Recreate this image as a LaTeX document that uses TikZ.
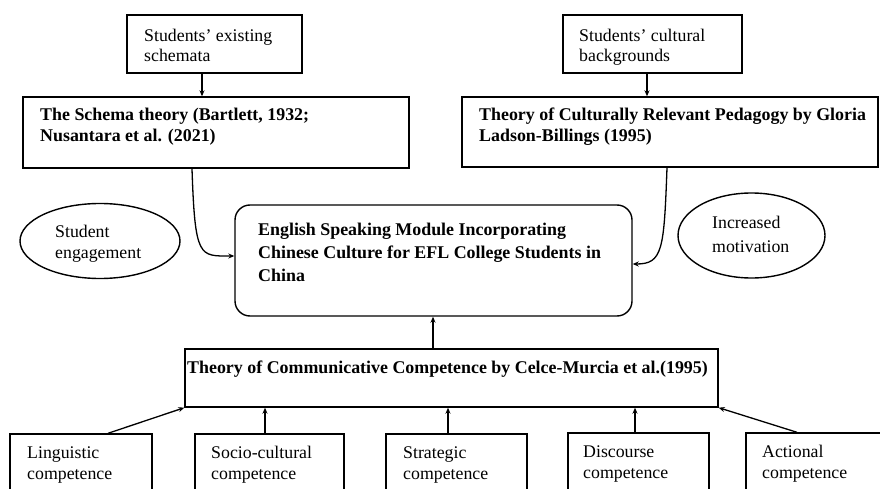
\documentclass[tikz,border=0pt]{standalone}
\usepackage{fontspec}
\setmainfont{Liberation Serif}
\usetikzlibrary{arrows.meta,shapes.geometric,calc}
\newcommand{\blines}[1]{\begin{tabular}[t]{@{}l@{}}#1\end{tabular}}
\begin{document}
\begin{tikzpicture}[x=1pt,y=-1pt,
  box/.style={draw,line width=1.4pt,rectangle,inner sep=0pt},
  ebox/.style={draw,line width=1.4pt,ellipse,inner sep=0pt},
  txt/.style={anchor=base west,inner sep=0pt,font=\fontsize{17.8}{20.5}\selectfont},
  btxt/.style={anchor=base west,inner sep=0pt,font=\fontsize{17.9}{20.7}\selectfont\bfseries},
  arr/.style={-{Stealth[length=6pt,width=5pt]},line width=1.3pt}]
\useasboundingbox (0,0) rectangle (880,489);
\clip (0,0) rectangle (880,489);

% boxes
\node[box,minimum width=175pt,minimum height=58pt] (tl) at (214.5,44) {};
\node[box,minimum width=179pt,minimum height=58pt] (tr) at (652.5,44) {};
\node[box,minimum width=386pt,minimum height=71pt] (schema) at (216,132.5) {};
\node[box,minimum width=416pt,minimum height=70pt] (crp) at (670,132) {};
\node[box,rounded corners=15pt,minimum width=397pt,minimum height=111pt] (central) at (433.5,260.5) {};
\node[ebox,minimum width=160pt,minimum height=75pt] (ell) at (100,241) {};
\node[ebox,minimum width=147pt,minimum height=85pt] (elr) at (751.5,235.5) {};
\node[box,minimum width=533pt,minimum height=58pt] (comm) at (451.5,378) {};
\node[box,minimum width=142pt,minimum height=86pt] (b1) at (81,477) {};
\node[box,minimum width=149pt,minimum height=86pt] (b2) at (269.5,477) {};
\node[box,minimum width=141pt,minimum height=86pt] (b3) at (456.5,477) {};
\node[box,minimum width=141pt,minimum height=86pt] (b4) at (638.5,476) {};
\node[box,minimum width=154pt,minimum height=86pt] (b5) at (823,476) {};

% texts
\node[txt] (tlt) at (144,41.5) {\blines{Students’ existing\\schemata}};
\node[txt] (trt) at (579,41.5) {\blines{Students’ cultural\\backgrounds}};
\node[btxt] (schemat) at (40,121) {\blines{The Schema theory (Bartlett, 1932;\\Nusantara et al. (2021)}};
\node[btxt] (crpt) at (479,121) {\blines{Theory of Culturally Relevant Pedagogy by Gloria\\Ladson-Billings (1995)}};
\node[btxt,font=\fontsize{17.9}{23.3}\selectfont\bfseries] (centralt) at (258,235) {\blines{English Speaking Module Incorporating\\Chinese Culture for EFL College Students in\\China}};
\node[txt,font=\fontsize{17.8}{21}\selectfont] (ellt) at (55,237) {\blines{Student\\engagement}};
\node[txt,font=\fontsize{17.8}{24}\selectfont] (elrt) at (712,228.5) {\blines{Increased\\motivation}};
\node[btxt] (commt) at (187,373.3) {Theory of Communicative Competence by Celce-Murcia et al.(1995)};
\node[txt,font=\fontsize{17.8}{20.7}\selectfont] (b1t) at (27,458.3) {\blines{Linguistic\\competence}};
\node[txt,font=\fontsize{17.8}{20.7}\selectfont] (b2t) at (211,458.3) {\blines{Socio-cultural\\competence}};
\node[txt,font=\fontsize{17.8}{20.7}\selectfont] (b3t) at (403,458.3) {\blines{Strategic\\competence}};
\node[txt,font=\fontsize{17.8}{20.7}\selectfont] (b4t) at (583,457.5) {\blines{Discourse\\competence}};
\node[txt,font=\fontsize{17.8}{20.7}\selectfont] (b5t) at (762,457.5) {\blines{Actional\\competence}};

% connectors
\draw[arr] ([xshift=-12.5pt]tl.south) -- ([xshift=-12.5pt]tl.south |- schema.north);
\draw[arr] ([xshift=-5.5pt]tr.south) -- ([xshift=-5.5pt]tr.south |- crp.north);
\draw[arr] ([xshift=-24pt]schema.south) .. controls +(3,90) and +(-35,0) .. ([yshift=4.5pt]central.west);
\draw[arr] ([xshift=-3pt]crp.south) .. controls +(-3,82) and +(30,0) .. ([yshift=-3.5pt]central.east);
\draw[arr] ([xshift=-18.5pt]comm.north) -- ([xshift=-18.5pt]comm.north |- central.south);
\draw[arr] ([xshift=27pt]b1.north) -- (comm.south west);
\draw[arr] ([xshift=-4.5pt]b2.north) -- ([xshift=-4.5pt]b2.north |- comm.south);
\draw[arr] ([xshift=-8.5pt]b3.north) -- ([xshift=-8.5pt]b3.north |- comm.south);
\draw[arr] ([xshift=-3.5pt]b4.north) -- ([xshift=-3.5pt]b4.north |- comm.south);
\draw[arr] ([xshift=-26pt]b5.north) -- (comm.south east);
\end{tikzpicture}
\end{document}
